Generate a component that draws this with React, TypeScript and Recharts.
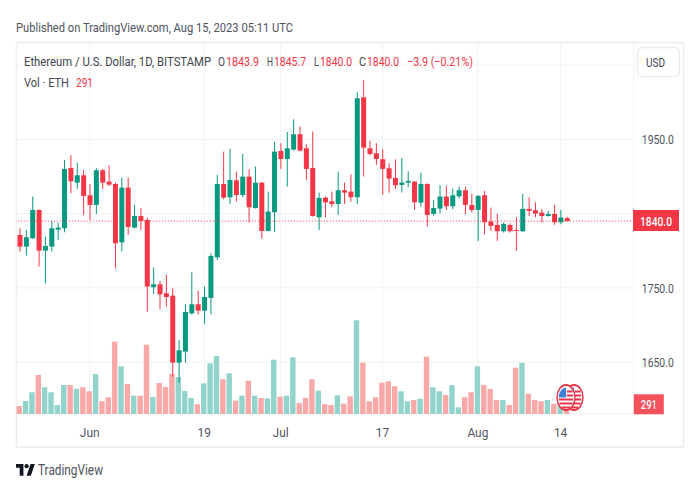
import React from 'react';
import { ComposedChart, CartesianGrid, XAxis, YAxis, Bar, ReferenceLine } from 'recharts';

const dates = [
  'May 21', 'May 22', 'May 23', 'May 24', 'May 25', 'May 26', 'May 27', 'May 28', 'May 29', 'May 30', 'May 31',
  'Jun 1', 'Jun 2', 'Jun 3', 'Jun 4', 'Jun 5', 'Jun 6', 'Jun 7', 'Jun 8', 'Jun 9', 'Jun 10', 'Jun 11', 'Jun 12', 'Jun 13', 'Jun 14',
  'Jun 15', 'Jun 16', 'Jun 17', 'Jun 18', 'Jun 19', 'Jun 20', 'Jun 21', 'Jun 22', 'Jun 23', 'Jun 24', 'Jun 25', 'Jun 26', 'Jun 27', 'Jun 28', 'Jun 29', 'Jun 30',
  'Jul 1', 'Jul 2', 'Jul 3', 'Jul 4', 'Jul 5', 'Jul 6', 'Jul 7', 'Jul 8', 'Jul 9', 'Jul 10', 'Jul 11', 'Jul 12', 'Jul 13', 'Jul 14', 'Jul 15', 'Jul 16',
  'Jul 17', 'Jul 18', 'Jul 19', 'Jul 20', 'Jul 21', 'Jul 22', 'Jul 23', 'Jul 24', 'Jul 25', 'Jul 26', 'Jul 27', 'Jul 28', 'Jul 29', 'Jul 30', 'Jul 31',
  'Aug 1', 'Aug 2', 'Aug 3', 'Aug 4', 'Aug 5', 'Aug 6', 'Aug 7', 'Aug 8', 'Aug 9', 'Aug 10', 'Aug 11', 'Aug 12', 'Aug 13', 'Aug 14', 'Aug 15',
];
// empty days TradingView leaves right of the last candle
const futureDates = ['Aug 16', 'Aug 17', 'Aug 18', 'Aug 19', 'Aug 20', 'Aug 21', 'Aug 22', 'Aug 23', 'Aug 24', 'Aug 25'];

const opens = [
  1821.3, 1805.6, 1816.8, 1855.0, 1800.2, 1805.6, 1828.5, 1830.3, 1911.6, 1891.8, 1901.7, 1874.8, 1861.8, 1908.5, 1893.2, 1890.0, 1811.4, 1885.1, 1831.2, 1846.9,
  1841.5, 1750.8, 1754.8, 1742.7, 1739.5, 1649.2, 1664.1, 1715.7, 1727.9, 1719.3, 1736.4, 1791.2, 1890.0, 1872.1, 1895.0, 1875.2, 1899.9, 1857.7, 1891.8, 1826.7,
  1851.9, 1934.5, 1923.7, 1936.3, 1957.0, 1938.1, 1911.6, 1845.1, 1871.6, 1866.7, 1863.1, 1881.5, 1879.7, 1872.1, 2006.8, 1938.1, 1931.4, 1923.3, 1911.2, 1898.1,
  1888.7, 1891.9, 1893.2, 1864.9, 1890.0, 1849.6, 1856.8, 1873.0, 1860.0, 1873.4, 1881.5, 1861.8, 1855.0, 1874.8, 1839.3, 1834.8, 1826.3, 1834.8, 1828.1, 1826.3,
  1856.4, 1854.6, 1851.4, 1846.9, 1849.6, 1838.4, 1843.9,
];
const highs = [
  1830.3, 1828.1, 1873.0, 1855.5, 1819.1, 1840.6, 1837.9, 1922.4, 1928.7, 1918.8, 1908.9, 1890.0, 1911.2, 1910.3, 1915.2, 1891.8, 1898.6, 1898.6, 1861.8, 1857.3,
  1844.7, 1777.7, 1759.3, 1767.4, 1749.4, 1679.8, 1727.9, 1771.0, 1746.3, 1751.7, 1796.6, 1902.2, 1933.6, 1937.2, 1906.7, 1930.5, 1909.8, 1913.4, 1892.5, 1879.7,
  1947.1, 1944.9, 1960.1, 1977.2, 1967.3, 1943.5, 1960.6, 1878.4, 1873.0, 1879.7, 1906.7, 1891.8, 1903.1, 2013.6, 2030.2, 1948.4, 1944.9, 1936.8, 1917.9, 1923.3,
  1925.0, 1907.1, 1893.8, 1905.3, 1891.0, 1868.5, 1888.7, 1887.4, 1883.8, 1886.5, 1886.5, 1876.6, 1875.2, 1880.6, 1858.2, 1850.0, 1838.0, 1837.0, 1845.1, 1876.6,
  1872.1, 1865.4, 1856.4, 1853.7, 1861.8, 1855.0, 1845.7,
];
const lows = [
  1798.9, 1793.5, 1816.0, 1778.6, 1756.2, 1798.9, 1814.6, 1824.9, 1877.5, 1883.3, 1848.3, 1841.5, 1849.6, 1883.3, 1887.4, 1776.4, 1799.3, 1821.3, 1830.3, 1828.1,
  1718.0, 1741.8, 1721.1, 1724.7, 1630.4, 1622.3, 1649.2, 1713.9, 1714.4, 1701.4, 1714.4, 1787.6, 1869.4, 1863.1, 1866.2, 1872.1, 1837.9, 1856.8, 1816.4, 1826.0,
  1825.4, 1910.3, 1886.5, 1935.0, 1933.6, 1895.4, 1846.0, 1828.1, 1845.1, 1858.6, 1848.3, 1863.1, 1866.2, 1863.1, 1899.9, 1928.7, 1915.7, 1875.2, 1878.4, 1883.3,
  1878.4, 1885.6, 1855.0, 1859.5, 1832.6, 1846.9, 1850.5, 1855.0, 1855.9, 1870.3, 1849.6, 1851.4, 1813.2, 1821.8, 1826.7, 1813.2, 1824.5, 1824.5, 1799.8, 1825.4,
  1846.9, 1845.1, 1838.4, 1846.0, 1834.8, 1835.7, 1840.0,
];
const closes = [
  1805.6, 1818.2, 1855.0, 1800.2, 1806.5, 1830.3, 1831.2, 1910.3, 1893.6, 1901.7, 1873.9, 1861.8, 1908.5, 1891.8, 1889.1, 1810.1, 1885.1, 1832.1, 1846.9, 1840.2,
  1751.7, 1754.8, 1741.3, 1737.7, 1649.2, 1665.9, 1717.5, 1727.9, 1719.3, 1737.7, 1793.0, 1890.0, 1871.6, 1895.4, 1875.2, 1899.9, 1858.6, 1891.8, 1826.7, 1852.8,
  1933.6, 1923.7, 1938.1, 1957.0, 1935.0, 1910.3, 1846.9, 1871.2, 1865.3, 1863.1, 1881.5, 1878.4, 1872.1, 2005.5, 1939.0, 1930.5, 1923.7, 1910.3, 1897.2, 1888.3,
  1891.9, 1894.1, 1865.4, 1890.0, 1848.3, 1857.7, 1873.0, 1860.0, 1874.8, 1881.5, 1861.8, 1855.0, 1873.9, 1838.4, 1833.5, 1826.3, 1836.2, 1826.3, 1826.7, 1856.4,
  1853.7, 1850.1, 1846.9, 1849.6, 1838.4, 1844.7, 1840.0,
];
const volumes = [
  408, 663, 1107, 1989, 1362, 1107, 459, 1479, 1479, 1290, 1362, 1158, 2040, 648, 852, 3687, 2433, 1530, 933, 933,
  3534, 867, 1581, 1377, 2040, 1887, 1173, 816, 495, 1566, 2586, 2958, 1770, 2076, 678, 933, 1698, 933, 816, 801,
  2769, 882, 933, 2892, 561, 816, 1770, 1188, 495, 459, 954, 525, 903, 4779, 2616, 648, 852, 1596, 1668, 1413,
  1158, 648, 714, 780, 2922, 1362, 1158, 969, 1479, 342, 852, 1107, 2433, 1479, 1275, 714, 714, 459, 2361, 2616,
  1035, 714, 648, 714, 525, 459, 291,
];

const priceTicks = [1650, 1750, 1850, 1950, 2050];
const hiddenPriceLabel = 2050; // sits behind the USD button in the screenshot
const dateTicks = ['Jun 1', 'Jun 19', 'Jul 1', 'Jul 17', 'Aug 1', 'Aug 14'];
const dateTickLabels = ['Jun', '19', 'Jul', '17', 'Aug', '14'];
const lastPrice = 1840;
const lastVolume = 291;

const UP = '#089981';
const DOWN = '#f23645';
const FONT = 'Roboto, sans-serif';
const TEXT_SIZE = 13.5;

const rows = [
  ...dates.map((date, i) => ({
    date,
    open: opens[i],
    close: closes[i],
    high: highs[i],
    low: lows[i],
    range: [lows[i], highs[i]],
    volume: volumes[i],
  })),
  ...futureDates.map((date) => ({ date })),
];

const Candle = (props: any) => {
  const { x, y, width, height, payload } = props;
  if (!payload || payload.open === undefined) return null;
  const { open, close, high, low } = payload;
  const perUnit = height / (high - low);
  const top = y + (high - Math.max(open, close)) * perUnit;
  const bodyHeight = Math.max(Math.abs(open - close) * perUnit, 1);
  const color = close >= open ? UP : DOWN;
  const cx = x + width / 2;
  return (
    <g>
      <line x1={cx} x2={cx} y1={y} y2={y + height} stroke={color} strokeWidth={1} />
      <rect x={x} y={top} width={width} height={bodyHeight} fill={color} />
    </g>
  );
};

const VolumeBar = (props: any) => {
  const { x, y, width, height, payload } = props;
  if (!payload || payload.volume === undefined) return null;
  const fill = payload.close >= payload.open ? '#92d3cc' : '#f9a8a8';
  return <rect x={x} y={y} width={width} height={height} fill={fill} />;
};

// fixed-width text so the squeezed look of the screenshot lines up
const Txt = ({ x, y, w, size = TEXT_SIZE, color = '#50535e', weight, children }: any) => (
  <text x={x} y={y} textLength={w} lengthAdjust="spacingAndGlyphs" fontFamily={FONT} fontSize={size} fontWeight={weight} fill={color}>
    {children}
  </text>
);

const PriceTick = ({ x, y, payload }: any) => {
  if (payload.value === hiddenPriceLabel) return null;
  return <Txt x={x} y={y + 5} w={32}>{payload.value.toFixed(1)}</Txt>;
};

const DateTick = ({ x, y, payload }: any) => (
  <text
    transform={`translate(${x} ${y + 15}) scale(0.88 1)`}
    textAnchor="middle"
    fontFamily={FONT}
    fontSize={TEXT_SIZE}
    fill="#50535e"
  >
    {dateTickLabels[dateTicks.indexOf(payload.value)]}
  </text>
);

const VolumeTag = ({ viewBox }: any) => {
  const left = viewBox.x + viewBox.width;
  return (
    <g>
      <rect x={left} y={viewBox.y - 14} width={30} height={20} fill="#f4515a" />
      <Txt x={left + 7} y={viewBox.y + 1} w={16} weight={500} color="#fff">{lastVolume}</Txt>
    </g>
  );
};

// the round flag badge is squeezed in the screenshot too
const FlagCoin = ({ cx, cy }: { cx: number; cy: number }) => (
  <g transform={`translate(${cx} ${cy}) scale(0.72 1)`}>
    <circle r={12.5} fill="#fff" stroke="#e8354a" strokeWidth={2} />
    <path d="M-10 2h20M-9 6h18M-6 10h12M1 -2h9M1 -6h8" stroke="#e8354a" strokeWidth={1.8} />
    <path d="M-10 0A10 10 0 0 1 0 -10V0Z" fill="#3f7fd6" />
  </g>
);

const App = () => {
  return (
    <div style={{ position: 'absolute', left: 0, top: 0, width: 700, height: 500, background: '#fff' }}>
      <svg width={700} height={500} style={{ position: 'absolute', left: 0, top: 0 }}>
        <rect x={16.5} y={42.5} width={667} height={404.5} fill="#fff" stroke="#ececec" strokeWidth={1.5} />
        <Txt x={16} y={32} w={277}>Published on TradingView.com, Aug 15, 2023 05:11 UTC</Txt>
        <path transform="translate(16 462) scale(0.53)" d="M14 26H7V11H0V4h14v22zM28 26h-8l7.5-22h8L28 26z" fill="#131722" />
        <circle cx={26.6} cy={466.2} r={2.1} fill="#131722" />
        <Txt x={38} y={475} w={65} size={15.5}>TradingView</Txt>
      </svg>
      <div style={{ position: 'absolute', left: 0, top: 0 }}>
        <ComposedChart width={700} height={500} data={rows} margin={{ top: 43, right: 0.2, bottom: 53, left: 16.5 }} barGap={0}>
          <CartesianGrid xAxisId="main" yAxisId="price" stroke="#f2f2f2" />
          <XAxis
            xAxisId="main"
            dataKey="date"
            ticks={dateTicks}
            interval={0}
            axisLine={false}
            tickLine={false}
            height={33}
            tick={<DateTick />}
          />
          <XAxis xAxisId="vol" dataKey="date" hide />
          <YAxis
            yAxisId="price"
            orientation="right"
            domain={[1580, 2080]}
            ticks={priceTicks}
            width={66}
            axisLine={false}
            tickLine={false}
            tick={<PriceTick />}
          />
          <YAxis yAxisId="vol" domain={[0, 18921]} hide />
          <Bar xAxisId="vol" yAxisId="vol" dataKey="volume" barSize={5.4} shape={<VolumeBar />} isAnimationActive={false} />
          <Bar xAxisId="main" yAxisId="price" dataKey="range" barSize={5} shape={<Candle />} isAnimationActive={false} />
          <ReferenceLine xAxisId="main" yAxisId="price" y={lastPrice} stroke={DOWN} strokeDasharray="1 2" />
          <ReferenceLine xAxisId="vol" yAxisId="vol" y={lastVolume} stroke="none" label={<VolumeTag />} />
        </ComposedChart>
      </div>
      {/* this overlay goes above the chart so the tag hides most of the 1850.0 tick, axis labels draw over reference lines */}
      <svg width={700} height={500} style={{ position: 'absolute', left: 0, top: 0, pointerEvents: 'none' }}>
        <Txt x={24} y={66} w={187} color="#434651">Ethereum / U.S. Dollar, 1D, BITSTAMP</Txt>
        <Txt x={218} y={66} w={7} color="#434651">O</Txt>
        <Txt x={226} y={66} w={33} color={DOWN}>1843.9</Txt>
        <Txt x={267} y={66} w={6} color="#434651">H</Txt>
        <Txt x={274} y={66} w={32} color={DOWN}>1845.7</Txt>
        <Txt x={314} y={66} w={5} color="#434651">L</Txt>
        <Txt x={320} y={66} w={32} color={DOWN}>1840.0</Txt>
        <Txt x={359} y={66} w={7} color="#434651">C</Txt>
        <Txt x={367} y={66} w={32} color={DOWN}>1840.0</Txt>
        <Txt x={407} y={66} w={66} color={DOWN}>−3.9 (−0.21%)</Txt>
        <Txt x={24} y={87} w={45} color="#434651">Vol · ETH</Txt>
        <Txt x={76} y={87} w={17} color={DOWN}>291</Txt>
        <rect x={637.5} y={47.5} width={42} height={29} rx={5} fill="#fff" stroke="#ececec" strokeWidth={1.5} />
        <Txt x={646} y={67} w={19} color="#434651">USD</Txt>
        <rect x={633} y={210} width={46} height={21} fill={DOWN} />
        <Txt x={640} y={226} w={32} weight={500} color="#fff">{lastPrice.toFixed(1)}</Txt>
        <FlagCoin cx={574} cy={397.5} />
        <FlagCoin cx={566} cy={397.5} />
      </svg>
    </div>
  );
};

export default App;
